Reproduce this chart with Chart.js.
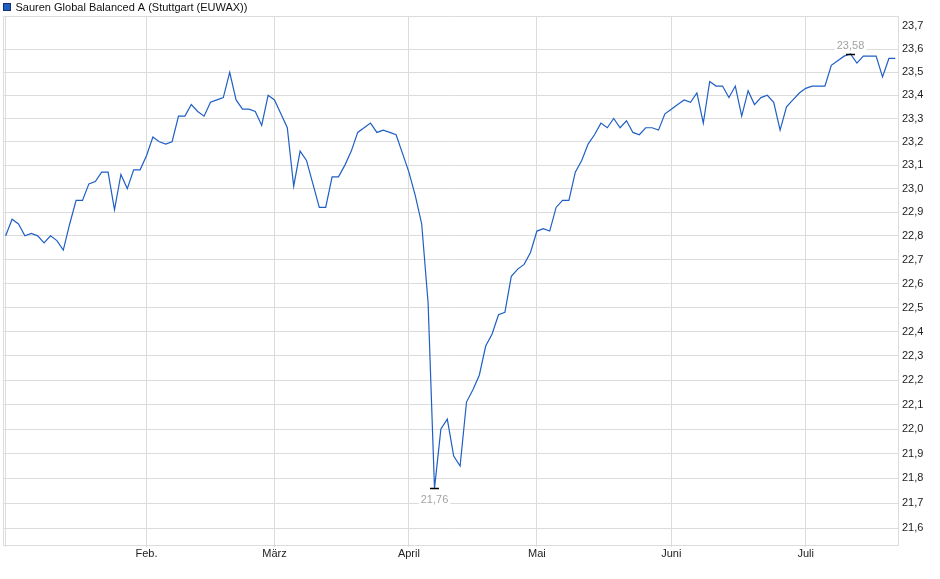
<!DOCTYPE html>
<html>
<head>
<meta charset="utf-8">
<script src="https://cdn.jsdelivr.net/npm/chart.js@4"></script>
<style>
  html, body { margin: 0; padding: 0; background: #fff; }
  #wrap { width: 940px; height: 579px; }
</style>
</head>
<body>
<div id="wrap"><canvas id="chart" width="940" height="579"></canvas></div>
<script>
const title = 'Sauren Global Balanced A (Stuttgart (EUWAX))';

// trading-day index where each month starts (Jan has no label)
const monthNames = ['', 'Feb.', 'März', 'April', 'Mai', 'Juni', 'Juli'];
const monthStarts = [0, 22, 42, 63, 83, 104, 125];

const yTicks = [21.6, 21.7, 21.8, 21.9, 22.0, 22.1, 22.2, 22.3, 22.4, 22.5, 22.6,
                22.7, 22.8, 22.9, 23.0, 23.1, 23.2, 23.3, 23.4, 23.5, 23.6, 23.7];

// daily closing prices, one per trading day
const prices = [
  22.80, 22.87, 22.85, 22.80, 22.81, 22.80, 22.77, 22.80, 22.78, 22.74,
  22.85, 22.95, 22.95, 23.02, 23.03, 23.07, 23.07, 22.91, 23.06, 23.00,
  23.08, 23.08, 23.14, 23.22, 23.20, 23.19, 23.20, 23.31, 23.31, 23.36,
  23.33, 23.31, 23.37, 23.38, 23.39, 23.50, 23.38, 23.34, 23.34, 23.33,
  23.27, 23.40, 23.38, 23.32, 23.26, 23.01, 23.16, 23.12, 23.02, 22.92,
  22.92, 23.05, 23.05, 23.10, 23.16, 23.24, 23.26, 23.28, 23.24, 23.25,
  23.24, 23.23, 23.15, 23.07, 22.97, 22.85, 22.52, 21.76, 22.00, 22.04,
  21.89, 21.85, 22.11, 22.16, 22.22, 22.34, 22.39, 22.47, 22.48, 22.63,
  22.66, 22.68, 22.73, 22.82, 22.83, 22.82, 22.92, 22.95, 22.95, 23.07,
  23.12, 23.19, 23.23, 23.28, 23.26, 23.30, 23.26, 23.29, 23.24, 23.23,
  23.26, 23.26, 23.25, 23.32, 23.34, 23.36, 23.38, 23.37, 23.41, 23.28,
  23.46, 23.44, 23.44, 23.39, 23.44, 23.31, 23.42, 23.36, 23.39, 23.40,
  23.37, 23.25, 23.35, 23.38, 23.41, 23.43, 23.44, 23.44, 23.44, 23.53,
  23.55, 23.57, 23.58, 23.54, 23.57, 23.57, 23.57, 23.48, 23.56, 23.56
];

const lineColor = '#1f5fc4';
const gridColor = '#dcdcdc';
const fontFamily = "'Liberation Sans', Arial, sans-serif";

const comma = (v, d) => v.toFixed(d).replace('.', ',');

const framePlugin = {
  id: 'frame',
  beforeDatasetsDraw(chart) {
    const { ctx, chartArea: a } = chart;
    ctx.save();
    ctx.strokeStyle = gridColor;
    ctx.lineWidth = 1;
    ctx.beginPath();
    ctx.moveTo(a.left + 0.5, a.bottom);
    ctx.lineTo(a.left + 0.5, a.top + 0.5);
    ctx.lineTo(a.right, a.top + 0.5);
    ctx.stroke();
    ctx.restore();
  },
  afterDraw(chart) {
    const ctx = chart.ctx;
    ctx.save();
    ctx.fillStyle = lineColor;
    ctx.fillRect(3.5, 3.5, 7, 7);
    ctx.strokeStyle = '#17316e';
    ctx.strokeRect(3.5, 3.5, 7, 7);
    ctx.fillStyle = '#111';
    ctx.font = '11px ' + fontFamily;
    ctx.textBaseline = 'middle';
    ctx.fillText(title, 15.5, 7.5);
    ctx.restore();
  }
};

const extremesPlugin = {
  id: 'extremes',
  afterDatasetsDraw(chart) {
    const { ctx } = chart;
    const pts = chart.getDatasetMeta(0).data;
    const lo = prices.indexOf(Math.min(...prices));
    const hi = prices.indexOf(Math.max(...prices));
    const mark = (i, dy) => {
      const p = pts[i];
      const y = Math.round(p.y) + 0.5;
      ctx.save();
      ctx.strokeStyle = '#000';
      ctx.lineWidth = 1.5;
      ctx.beginPath();
      ctx.moveTo(p.x - 4.5, y);
      ctx.lineTo(p.x + 4.5, y);
      ctx.stroke();
      const txt = comma(prices[i], 2);
      ctx.font = '11px ' + fontFamily;
      const w = ctx.measureText(txt).width;
      ctx.fillStyle = '#fff';
      ctx.fillRect(p.x - w / 2 - 2, y + dy - 6, w + 4, 12);
      ctx.fillStyle = '#a3a3a3';
      ctx.textAlign = 'center';
      ctx.textBaseline = 'middle';
      ctx.fillText(txt, p.x, y + dy);
      ctx.restore();
    };
    mark(lo, 11);
    mark(hi, -9);
  }
};

new Chart(document.getElementById('chart'), {
  type: 'line',
  data: {
    datasets: [{
      label: title,
      data: prices.map((v, i) => ({ x: i, y: v })),
      borderColor: lineColor,
      borderWidth: 1.2,
      pointRadius: 0,
      tension: 0,
      fill: false
    }]
  },
  options: {
    responsive: false,
    animation: false,
    layout: { padding: { top: 16, left: 3, right: 0, bottom: 0 } },
    plugins: { legend: { display: false }, tooltip: { enabled: false } },
    scales: {
      x: {
        type: 'linear',
        min: -0.42,
        max: 139.42,
        afterFit: s => { s.height = 34; },
        afterBuildTicks: s => { s.ticks = monthStarts.map(v => ({ value: v })); },
        grid: { color: gridColor, tickLength: 2 },
        border: { color: gridColor },
        ticks: {
          autoSkip: false,
          maxRotation: 0,
          padding: 0,
          color: '#222',
          font: { family: fontFamily, size: 11 },
          callback: v => monthNames[monthStarts.indexOf(v)] || ''
        }
      },
      y: {
        type: 'logarithmic',
        position: 'right',
        min: 21.5334,
        max: 23.7456,
        afterFit: s => { s.width = 42; },
        afterBuildTicks: s => { s.ticks = yTicks.map(v => ({ value: v })); },
        grid: {
          drawTicks: false,
          color: c => (c.tick && c.tick.value > 23.65) ? 'rgba(0,0,0,0)' : gridColor
        },
        border: { color: gridColor },
        ticks: {
          autoSkip: false,
          padding: 4,
          color: '#222',
          font: { family: fontFamily, size: 11 },
          callback: v => comma(v, 1)
        }
      }
    }
  },
  plugins: [framePlugin, extremesPlugin]
});
</script>
</body>
</html>
